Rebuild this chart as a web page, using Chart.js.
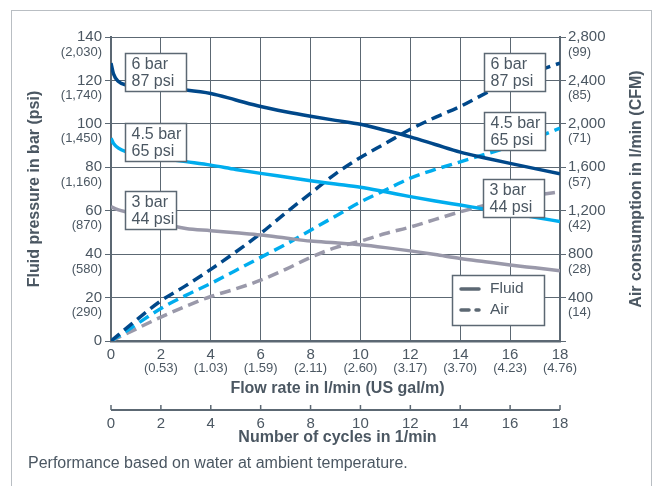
<!DOCTYPE html>
<html lang="en">
<head>
<meta charset="UTF-8">
<title>Performance</title>
<script src="https://cdn.jsdelivr.net/npm/chart.js"></script>
<style>
  html, body { margin: 0; padding: 0; background: #fff; }
  #wrap { position: relative; width: 656px; height: 486px; }
</style>
</head>
<body>
<div id="wrap"><canvas id="perfChart"></canvas></div>
<script>
// flow rate points (l/min) for the fluid pressure curves
const fluidFlow = [0, 0.1, 0.3, 0.6, 1, 2, 3, 4, 5, 6, 7, 8, 9, 10, 11, 12, 13, 14, 15, 16, 17, 18];
const fluid6 = [128, 123, 119.5, 118, 117.5, 116.5, 115.6, 114, 111, 108, 105.6, 103.5, 101.6, 99.8, 97, 94, 90.5, 87, 84.3, 81.8, 79.4, 77];
const fluid45 = [93.4, 91, 88.8, 87.2, 86, 84.2, 82.6, 81, 79, 77.2, 75.5, 73.8, 72.3, 70.8, 68.7, 66.5, 64.5, 62.6, 60.7, 58.8, 57, 55];
const fluid3 = [62, 61.3, 60.4, 59.5, 58.5, 54.5, 51.8, 50.8, 49.8, 48.8, 47.4, 46, 45.2, 44.3, 43, 41.5, 39.8, 38, 36.5, 35, 33.7, 32.4];

// flow rate points for the air consumption curves (l/min air)
const airFlow = [0, 1, 2, 3, 4, 5, 6, 7, 8, 9, 10, 11, 12, 13, 14, 15, 16, 17, 18];
const air6 = [0, 190, 370, 510, 660, 820, 990, 1180, 1360, 1540, 1690, 1820, 1950, 2060, 2160, 2280, 2400, 2480, 2560];
const air45 = [0, 150, 300, 420, 530, 650, 770, 890, 1020, 1150, 1280, 1390, 1500, 1580, 1650, 1720, 1790, 1870, 1960];
const air3 = [0, 110, 220, 320, 410, 480, 560, 660, 770, 860, 920, 990, 1050, 1120, 1190, 1250, 1300, 1340, 1375];

// tick labels
const barTicks = [0, 20, 40, 60, 80, 100, 120, 140];
const psiTicks = ['', '(290)', '(580)', '(870)', '(1,160)', '(1,450)', '(1,740)', '(2,030)'];
const airTicks = [0, 400, 800, 1200, 1600, 2000, 2400, 2800];
const cfmTicks = ['', '(14)', '(28)', '(42)', '(57)', '(71)', '(85)', '(99)'];
const flowTicks = [0, 2, 4, 6, 8, 10, 12, 14, 16, 18];
const galTicks = ['', '(0.53)', '(1.03)', '(1.59)', '(2.11)', '(2.60)', '(3.17)', '(3.70)', '(4.23)', '(4.76)'];
const cycleTicks = [0, 2, 4, 6, 8, 10, 12, 14, 16, 18];

const seriesLabels = [['6 bar', '87 psi'], ['4.5 bar', '65 psi'], ['3 bar', '44 psi']];

const DARK = '#00488a';
const LIGHT = '#00adee';
const GREY = '#9a99aa';
const INK = '#4b5762';
const GRID = '#5c6873';
const FONT = '"Liberation Sans", Arial, sans-serif';

function pts(xs, ys) {
    return xs.map((x, i) => ({ x: x, y: ys[i] }));
}

function line(label, xs, ys, color, axis, dashed) {
    return {
        label: label,
        data: pts(xs, ys),
        yAxisID: axis,
        borderColor: color,
        borderWidth: 3.5,
        borderDash: dashed ? [11, 6] : [],
        pointRadius: 0,
        fill: false,
        cubicInterpolationMode: 'monotone'
    };
}

// frame around the whole figure
const framePlugin = {
    id: 'frame',
    beforeDraw(chart) {
        const ctx = chart.ctx;
        ctx.save();
        ctx.strokeStyle = '#b9bec3';
        ctx.lineWidth = 1;
        ctx.strokeRect(11.5, 10.5, 640, 500);
        ctx.restore();
    }
};

function textBox(ctx, x, y, w, lines) {
    ctx.fillStyle = '#fff';
    ctx.fillRect(x, y, w, 38);
    ctx.strokeStyle = GRID;
    ctx.lineWidth = 1.5;
    ctx.strokeRect(x, y, w, 38);
    ctx.fillStyle = INK;
    ctx.font = '16px ' + FONT;
    ctx.textAlign = 'left';
    ctx.textBaseline = 'middle';
    ctx.fillText(lines[0], x + 6, y + 11);
    ctx.fillText(lines[1], x + 6, y + 28);
}

const labelsPlugin = {
    id: 'labels',
    afterDraw(chart) {
        const ctx = chart.ctx;
        const sx = chart.scales.x, sy = chart.scales.y, sy2 = chart.scales.y2;
        const area = chart.chartArea;
        ctx.save();
        ctx.fillStyle = INK;

        // left axis labels
        ctx.textAlign = 'right';
        ctx.textBaseline = 'middle';
        barTicks.forEach((v, i) => {
            const py = sy.getPixelForValue(v);
            ctx.font = '15px ' + FONT;
            ctx.fillText(String(v), area.left - 9, py);
            ctx.font = '13px ' + FONT;
            if (psiTicks[i]) ctx.fillText(psiTicks[i], area.left - 9, py + 15);
        });

        // right axis labels
        ctx.textAlign = 'left';
        airTicks.forEach((v, i) => {
            if (!cfmTicks[i]) return;
            const py = sy2.getPixelForValue(v);
            ctx.font = '15px ' + FONT;
            ctx.fillText(v.toLocaleString('en-US'), area.right + 8, py);
            ctx.font = '13px ' + FONT;
            ctx.fillText(cfmTicks[i], area.right + 8, py + 15);
        });

        // bottom axis labels
        ctx.textAlign = 'center';
        flowTicks.forEach((v, i) => {
            const px = sx.getPixelForValue(v);
            ctx.font = '15px ' + FONT;
            ctx.fillText(String(v), px, area.bottom + 14);
            ctx.font = '13px ' + FONT;
            if (galTicks[i]) ctx.fillText(galTicks[i], px, area.bottom + 27);
        });

        // axis titles
        const midX = (area.left + area.right) / 2;
        const midY = (area.top + area.bottom) / 2;
        ctx.font = 'bold 16px ' + FONT;
        ctx.fillText('Flow rate in l/min (US gal/m)', midX + 2, area.bottom + 48);

        ctx.save();
        ctx.translate(35, midY);
        ctx.rotate(-Math.PI / 2);
        ctx.fillText('Fluid pressure in bar (psi)', 0, 0);
        ctx.restore();

        ctx.save();
        ctx.translate(637, midY);
        ctx.rotate(-Math.PI / 2);
        ctx.fillText('Air consumption in l/min (CFM)', 0, 0);
        ctx.restore();

        // cycles axis, sharing the flow-rate positions
        const cy = 410;
        ctx.strokeStyle = GRID;
        ctx.lineWidth = 2;
        ctx.beginPath();
        ctx.moveTo(sx.getPixelForValue(0), cy);
        ctx.lineTo(sx.getPixelForValue(18), cy);
        ctx.stroke();
        ctx.lineWidth = 1.5;
        cycleTicks.forEach(v => {
            const px = sx.getPixelForValue(v);
            ctx.beginPath();
            ctx.moveTo(px, cy - 5);
            ctx.lineTo(px, cy);
            ctx.stroke();
            ctx.font = '15px ' + FONT;
            ctx.fillText(String(v), px, cy + 14);
        });
        ctx.font = 'bold 16px ' + FONT;
        ctx.fillText('Number of cycles in 1/min', midX + 2, cy + 28);

        // footnote
        ctx.textAlign = 'left';
        ctx.font = '16px ' + FONT;
        ctx.fillText('Performance based on water at ambient temperature.', 28, 464);

        // series labels
        textBox(ctx, 125.5, 53.5, 61, seriesLabels[0]);
        textBox(ctx, 125.5, 123.5, 61, seriesLabels[1]);
        textBox(ctx, 125.5, 191.5, 51, seriesLabels[2]);
        textBox(ctx, 484.5, 53.5, 61, seriesLabels[0]);
        textBox(ctx, 484.5, 112.5, 61, seriesLabels[1]);
        textBox(ctx, 483.5, 179.5, 61, seriesLabels[2]);

        // legend
        ctx.fillStyle = '#fff';
        ctx.fillRect(452.5, 275.5, 92, 50);
        ctx.strokeStyle = GRID;
        ctx.lineWidth = 1.5;
        ctx.strokeRect(452.5, 275.5, 92, 50);
        ctx.lineWidth = 3.5;
        ctx.lineCap = 'round';
        ctx.beginPath();
        ctx.moveTo(461, 289);
        ctx.lineTo(479, 289);
        ctx.stroke();
        ctx.beginPath();
        ctx.moveTo(461, 310);
        ctx.lineTo(469, 310);
        ctx.moveTo(476, 310);
        ctx.lineTo(479, 310);
        ctx.stroke();
        ctx.fillStyle = INK;
        ctx.font = '15.5px ' + FONT;
        ctx.textBaseline = 'middle';
        ctx.fillText('Fluid', 490, 289);
        ctx.fillText('Air', 490, 310);

        ctx.restore();
    }
};

const ctx = document.getElementById('perfChart').getContext('2d');
new Chart(ctx, {
    type: 'line',
    data: {
        datasets: [
            line('6 bar fluid', fluidFlow, fluid6, DARK, 'y', false),
            line('4.5 bar fluid', fluidFlow, fluid45, LIGHT, 'y', false),
            line('3 bar fluid', fluidFlow, fluid3, GREY, 'y', false),
            line('6 bar air', airFlow, air6, DARK, 'y2', true),
            line('4.5 bar air', airFlow, air45, LIGHT, 'y2', true),
            line('3 bar air', airFlow, air3, GREY, 'y2', true)
        ]
    },
    options: {
        responsive: true,
        maintainAspectRatio: false,
        animation: false,
        layout: { padding: { top: 37, left: 0, right: 0, bottom: 0 } },
        scales: {
            x: {
                type: 'linear',
                min: 0,
                max: 18,
                ticks: { stepSize: 2, display: false },
                grid: { color: GRID, lineWidth: 1, drawTicks: false },
                border: { color: GRID, width: 2.5 },
                afterFit: s => { s.height = 145; }
            },
            y: {
                position: 'left',
                min: 0,
                max: 140,
                ticks: { stepSize: 20, display: false },
                grid: { color: GRID, lineWidth: 1, drawTicks: true, tickLength: 6 },
                border: { color: GRID, width: 2 },
                afterFit: s => { s.width = 111; }
            },
            y2: {
                position: 'right',
                min: 0,
                max: 2800,
                ticks: { stepSize: 400, display: false },
                grid: { color: GRID, lineWidth: 1, drawOnChartArea: false, drawTicks: true, tickLength: 6 },
                border: { color: GRID, width: 2 },
                afterFit: s => { s.width = 96; }
            }
        },
        plugins: {
            legend: { display: false },
            tooltip: { enabled: false }
        }
    },
    plugins: [framePlugin, labelsPlugin]
});
</script>
</body>
</html>
